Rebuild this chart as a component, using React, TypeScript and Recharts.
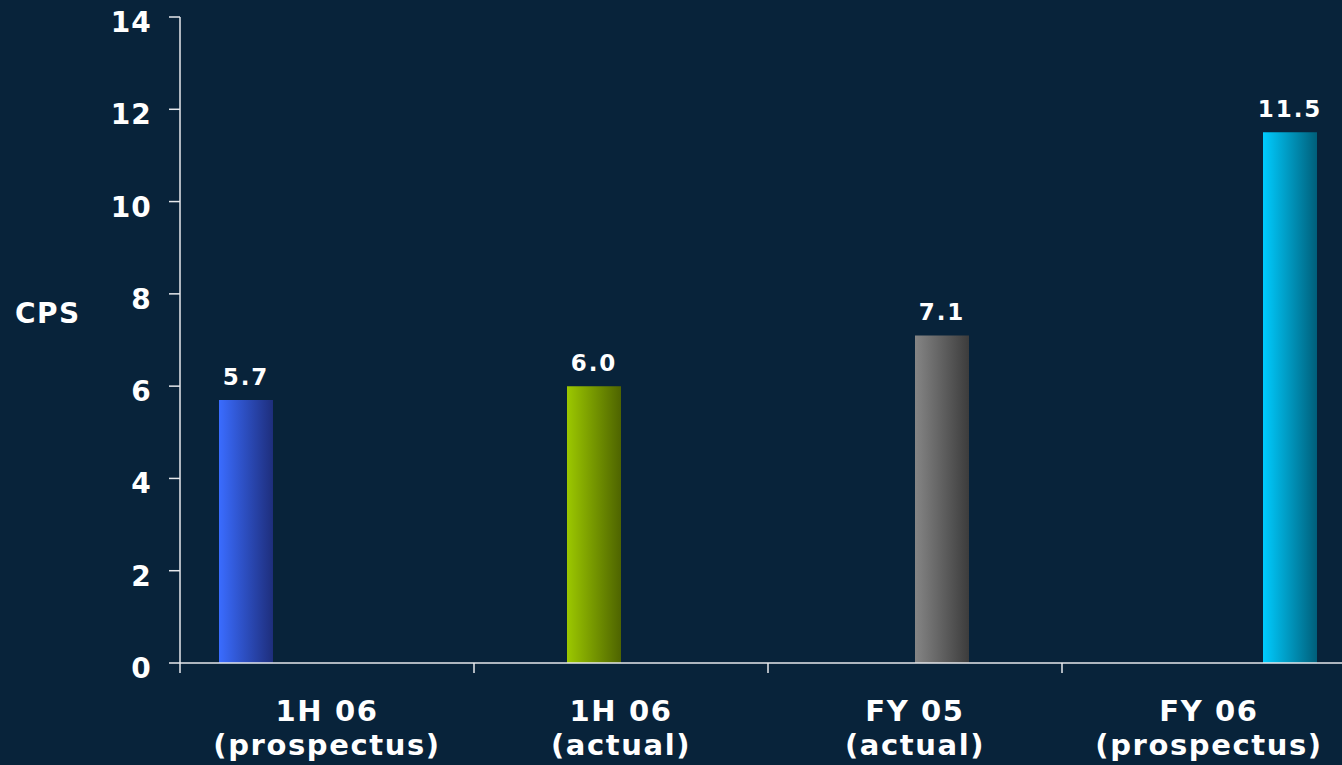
import { BarChart, Bar, XAxis, YAxis, LabelList } from 'recharts';

const categories = ['1H 06\n(prospectus)', '1H 06\n(actual)', 'FY 05\n(actual)', 'FY 06\n(prospectus)'];
const cpsValues = [5.7, 6.0, 7.1, 11.5];
const yTicks = [0, 2, 4, 6, 8, 10, 12, 14];
const seriesKeys = ['s0', 's1', 's2', 's3'];
const barColors = [
  ['#3a6cff', '#1e2e7c'],
  ['#9cc800', '#4e6400'],
  ['#858585', '#3c3c3c'],
  ['#00ccff', '#005f7a'],
];

const data = categories.map((name, i) => ({ name, [seriesKeys[i]]: cpsValues[i] }));

const BG = '#08233a';
const INK = '#ffffff';
const AXIS = '#e6e9ec';
const FONT = '"DejaVu Sans", Verdana, sans-serif';

function XTick(props: any) {
  const { x, y, payload } = props;
  const half = payload.offset ?? 147;
  const lines = String(payload.value).split('\n');
  return (
    <g>
      <line x1={x - half} y1={y - 8} x2={x - half} y2={y + 2} stroke={AXIS} strokeWidth={1.5} />
      <text
        x={x}
        y={y}
        textAnchor="middle"
        fill={INK}
        fontFamily={FONT}
        fontWeight="bold"
        fontSize={29}
        letterSpacing={1.6}
      >
        {lines.map((l, i) => (
          <tspan key={i} x={x} dy={i === 0 ? 50 : 34}>
            {l}
          </tspan>
        ))}
      </text>
    </g>
  );
}

function YTick(props: any) {
  const { x, y, payload } = props;
  return (
    <text
      x={x}
      y={y}
      dy={15}
      textAnchor="end"
      fill={INK}
      fontFamily={FONT}
      fontWeight="bold"
      fontSize={28}
      letterSpacing={1.2}
    >
      {payload.value}
    </text>
  );
}

export default function App() {
  return (
    <div
      style={{
        position: 'absolute',
        left: 0,
        top: 0,
        width: 1342,
        height: 765,
        overflow: 'hidden',
        background: BG,
      }}
    >
      <BarChart
        width={1360}
        height={765}
        data={data}
        margin={{ top: 17, right: 4, left: 10, bottom: 0 }}
        barGap={0}
        barSize={54}
      >
        <defs>
          {barColors.map(([a, b], i) => (
            <linearGradient key={i} id={`grad${i}`} x1="0" y1="0" x2="1" y2="0">
              <stop offset="0%" stopColor={a} />
              <stop offset="100%" stopColor={b} />
            </linearGradient>
          ))}
        </defs>
        <XAxis
          dataKey="name"
          height={102}
          interval={0}
          axisLine={{ stroke: AXIS, strokeWidth: 1.5 }}
          tickLine={false}
          tick={<XTick />}
        />
        <YAxis
          width={170}
          domain={[0, 14]}
          ticks={yTicks}
          interval={0}
          axisLine={{ stroke: AXIS, strokeWidth: 1.5 }}
          tickLine={{ stroke: AXIS, strokeWidth: 1.5 }}
          tickSize={11}
          tickMargin={17}
          tick={<YTick />}
          label={{
            value: 'CPS',
            position: 'insideLeft',
            offset: 5,
            dy: -27,
            fill: INK,
            fontFamily: FONT,
            fontWeight: 'bold',
            fontSize: 28,
            letterSpacing: 1.5,
          }}
        />
        {seriesKeys.map((k, i) => (
          <Bar key={k} dataKey={k} fill={`url(#grad${i})`} isAnimationActive={false}>
            <LabelList
              dataKey={k}
              position="top"
              offset={15}
              formatter={(v: any) => (v == null ? '' : Number(v).toFixed(1))}
              fill={INK}
              fontFamily={FONT}
              fontWeight="bold"
              fontSize={23}
              letterSpacing={2}
            />
          </Bar>
        ))}
      </BarChart>
    </div>
  );
}
